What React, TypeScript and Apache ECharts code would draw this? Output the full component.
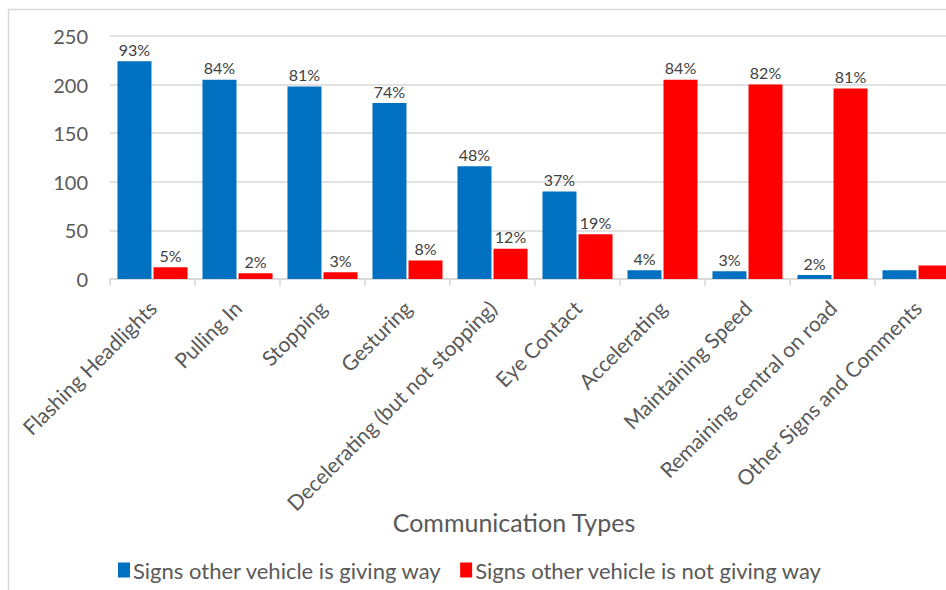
import React, { useEffect, useRef } from "react";
import * as echarts from "echarts";

const categories = [
  "Flashing Headlights",
  "Pulling In",
  "Stopping",
  "Gesturing",
  "Decelerating (but not stopping)",
  "Eye Contact",
  "Accelerating",
  "Maintaining Speed",
  "Remaining central on road",
  "Other Signs and Comments",
];
const givingWay = [224, 205, 198, 181, 116, 90, 9, 8, 4, 9];
const notGivingWay = [12, 6, 7, 19, 31, 46, 205, 200, 196, 14];
const givingWayPct = ["93%", "84%", "81%", "74%", "48%", "37%", "4%", "3%", "2%", ""];
const notGivingWayPct = ["5%", "2%", "3%", "8%", "12%", "19%", "84%", "82%", "81%", ""];
const seriesNames = ["Signs other vehicle is giving way", "Signs other vehicle is not giving way"];
const axisTitle = "Communication Types";
const yTicks = { min: 0, max: 250, interval: 50 };

const FONT = "Lato, 'Open Sans', sans-serif";
const GRAY = "#595959";

export default function App() {
  const ref = useRef<HTMLDivElement>(null);
  useEffect(() => {
    if (!ref.current) return;
    const chart = echarts.init(ref.current, null, { renderer: "svg" });
    const mkLabel = (pcts: string[]) => ({
      show: true,
      position: "top" as const,
      distance: 4,
      color: "#404040",
      fontSize: 16,
      fontFamily: FONT,
      formatter: (p: any) => pcts[p.dataIndex],
    });
    chart.setOption({
      animation: false,
      textStyle: { fontFamily: FONT },
      grid: { left: 110, top: 36, width: 850, height: 243, containLabel: false },
      legend: {
        left: 113,
        top: 554,
        itemWidth: 12,
        itemHeight: 15,
        itemGap: 18,
        icon: "rect",
        textStyle: { fontSize: 22, color: GRAY, fontFamily: FONT, padding: [0, 0, 0, -2] },
        data: seriesNames,
      },
      xAxis: {
        type: "category",
        data: categories,
        axisLine: { lineStyle: { color: "#d9d9d9", width: 1.5 } },
        axisTick: { show: true, length: 7, lineStyle: { color: "#d9d9d9", width: 1.5 }, alignWithLabel: false },
        axisLabel: {
          rotate: 45,
          interval: 0,
          margin: 25,
          fontSize: 21,
          color: GRAY,
          fontFamily: FONT,
        },
      },
      yAxis: {
        type: "value",
        min: yTicks.min,
        max: yTicks.max,
        interval: yTicks.interval,
        axisLine: { show: false },
        axisTick: { show: false },
        splitLine: { lineStyle: { color: "#d9d9d9", width: 1.5 } },
        axisLabel: { fontSize: 20, color: GRAY, margin: 22, fontFamily: FONT },
      },
      graphic: [
        {
          type: "text",
          x: 514,
          y: 522,
          style: { text: axisTitle, fontSize: 25, fill: GRAY, fontFamily: FONT, align: "center", verticalAlign: "middle" },
        },
        {
          type: "line",
          shape: { x1: 8.5, y1: 9, x2: 8.5, y2: 600 },
          style: { stroke: "#d9d9d9", lineWidth: 1.5 },
        },
        {
          type: "line",
          shape: { x1: 8, y1: 9.5, x2: 1000, y2: 9.5 },
          style: { stroke: "#d9d9d9", lineWidth: 1.5 },
        },
      ],
      series: [
        {
          name: seriesNames[0],
          type: "bar",
          data: givingWay,
          barWidth: 34,
          barGap: "6%",
          itemStyle: { color: "#0070c0" },
          label: mkLabel(givingWayPct),
        },
        {
          name: seriesNames[1],
          type: "bar",
          data: notGivingWay,
          barWidth: 34,
          itemStyle: { color: "#ff0000" },
          label: mkLabel(notGivingWayPct),
        },
      ],
    });
    return () => chart.dispose();
  }, []);
  return (
    <div
      ref={ref}
      style={{ position: "fixed", left: 0, top: 0, width: 1000, height: 590, background: "#fff" }}
    />
  );
}
